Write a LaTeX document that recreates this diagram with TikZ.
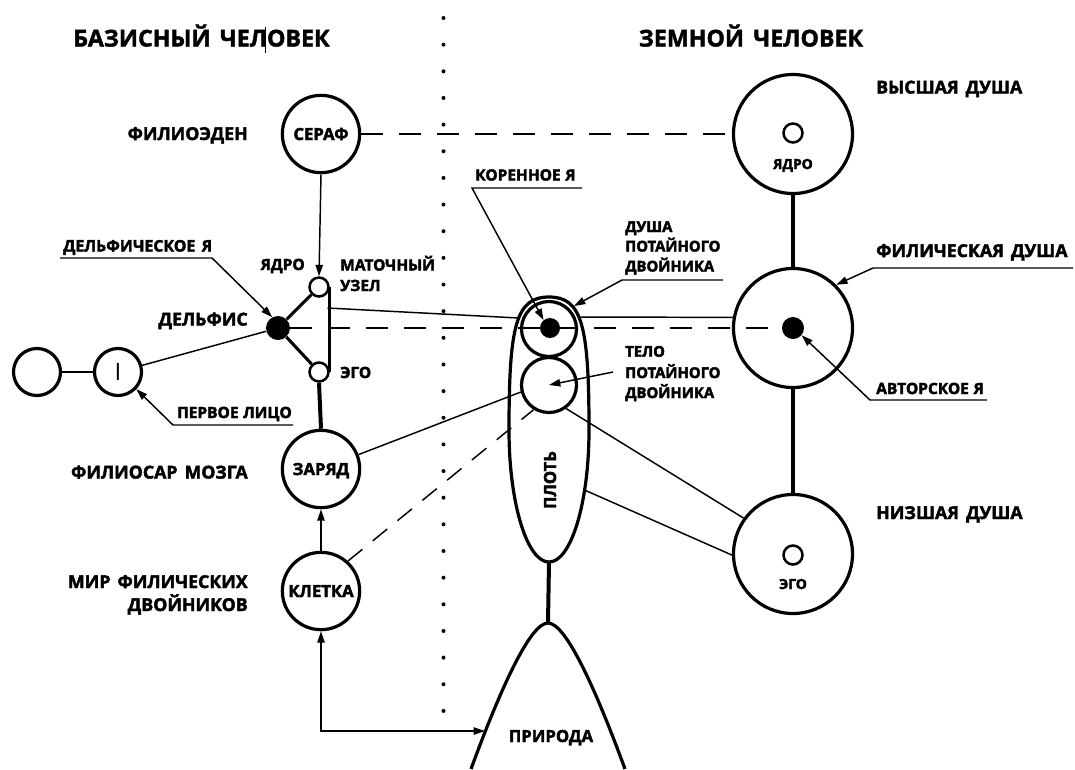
\documentclass[tikz,border=0pt]{standalone}
\usepackage{fontspec}
\setmainfont{Open Sans}
\usetikzlibrary{arrows.meta}
\newcommand{\gp}{\hskip0.4em\relax}
\newcommand{\sgp}{\hskip0.3em\relax}
\newcommand{\heavyon}{\special{pdf:literal direct 2 Tr 0.3 w}}
\newcommand{\heavyoff}{\special{pdf:literal direct 0 Tr}}
\begin{document}
\begin{tikzpicture}[x=0.75pt,y=-0.75pt,
  hv/.style={execute at begin node=\heavyon, execute at end node=\heavyoff},
  ttl/.style={hv, font=\fontsize{17.4}{21}\selectfont\bfseries, inner sep=0pt, anchor=base},
  side/.style={hv, font=\fontsize{13.3}{16}\selectfont\bfseries, inner sep=0pt},
  sml/.style={hv, font=\fontsize{11.6}{14}\selectfont\bfseries, inner sep=0pt},
  smm/.style={hv, font=\fontsize{11.1}{14}\selectfont\bfseries, inner sep=0pt},
  tny/.style={hv, font=\fontsize{10.4}{12}\selectfont\bfseries, inner sep=0pt, anchor=base},
  incirc/.style={hv, font=\fontsize{12.5}{15}\selectfont\bfseries, text height=9pt, text depth=0pt},
  ring/.style={circle, draw, line width=2.4pt, inner sep=0pt},
  colc/.style={ring, incirc, minimum size=58pt},
  bigring/.style={ring, minimum size=89.25pt},
  midring/.style={ring, minimum size=41.25pt},
  smallring/.style={ring, minimum size=35.25pt},
  tinyring/.style={circle, draw, line width=1.9pt, minimum size=14.25pt, inner sep=0pt},
  dotn/.style={circle, fill, draw=none, inner sep=0pt},
  heavy/.style={line width=3pt},
  thinl/.style={line width=1.1pt},
  dashA/.style={line width=1.6pt, dash pattern=on 16.5pt off 12pt},
  dashB/.style={line width=1.1pt, dash pattern=on 14pt off 10pt},
  arr/.style={line width=1.1pt, -{Triangle[length=8.5pt,width=5.5pt]}},
  dblarr/.style={line width=1.1pt, {Triangle[length=8.5pt,width=5.5pt]}-{Triangle[length=8.5pt,width=5.5pt]}}
]
\useasboundingbox (0,0) rectangle (1075,769);

% dotted divider
\foreach \k in {0,...,26} \fill (443.5,{18+\k*26.65}) circle (1.5pt);

% titles
\node[ttl] (t1) at (201.5,46.5) {БАЗИСНЫЙ\gp ЧЕЛОВЕК};
\node[ttl] (t2) at (751,46.5) {ЗЕМНОЙ\gp ЧЕЛОВЕК};
\draw[line width=0.6pt] (265.5,27) -- (265.5,53);

% left column
\node[colc] (seraph) at (321,134) {СЕРАФ};
\node[tinyring] (yadro1) at (319,287) {};
\node[tinyring] (ego1) at (319,372) {};
\node[dotn, minimum size=18pt] (delf) at (278,328) {};
\node[colc] (zar) at (321,469) {ЗАРЯД};
\node[colc] (klet) at (321,591) {КЛЕТКА};
\node[smallring] (empt) at (37,372) {};
\node[smallring, font=\fontsize{18}{20}\selectfont] (Icirc) at (118,372) {I};

% right column
\node[bigring] (vysh) at (793,134) {};
\node[tinyring] (yadro2) at (793,133) {};
\node[bigring] (fil) at (793,328) {};
\node[dotn, minimum size=16.5pt] (avtor) at (793,328) {};
\node[bigring] (nizh) at (793,554) {};
\node[tinyring] (ego2) at (793,555) {};

% middle body
\draw[line width=2.4pt] (549,297) .. controls (582,297) and (589,325) .. (589,430)
  .. controls (589,503) and (571,562) .. (549,562)
  .. controls (527,562) and (509,503) .. (509,430)
  .. controls (509,325) and (516,297) .. (549,297) -- cycle;
\node[midring] (dusha) at (549,329) {};
\node[midring] (telo) at (549,385) {};
\node[dotn, minimum size=15pt] (koren) at (550,328) {};
\coordinate (plotbot) at (549,562);
\coordinate (prirtop) at (548,623);
\draw[line width=2.4pt] (471,769) .. controls (500,690) and (530,623) .. (prirtop)
  .. controls (566,623) and (596,690) .. (625,769);
\coordinate (prirleft) at (485,731);
\coordinate (ellL) at (518.5,318);
\coordinate (ellR) at (579,317);
\coordinate (ellR2) at (584.5,490);
\coordinate (dushatip) at (574,306);
\coordinate (trip) at (327.5,308);

% thick connectors
\draw[heavy] (vysh.south) -- (fil.north);
\draw[heavy] (fil.south) -- (nizh.north);
\draw[heavy] (plotbot) -- (prirtop);
\draw[heavy] (ego1.south) -- (zar.north);

% triangle
\draw[line width=2.3pt] (delf) -- (yadro1);
\draw[line width=2.3pt] (delf) -- (ego1);
\draw[line width=2.3pt] (yadro1.east) -- (ego1.east);

% arrows
\draw[arr] (seraph.south) -- (yadro1.north);
\draw[arr] (klet.north) -- (zar.south);
\draw[dblarr] (klet.south) |- (prirleft);

% dashed lines
\draw[dashA] (seraph.east) -- (vysh.west);
\draw[dashA] (delf) -- (avtor);
\draw[dashB] (klet.48) -- (telo.238);

% thin connectors
\draw[thinl] (empt) -- (Icirc);
\draw[thinl] (Icirc) -- (delf);
\draw[thinl] (trip) -- (ellL);
\draw[thinl] (ellR) -- (fil.170);
\draw[thinl] (zar.21) -- (telo.194);
\draw[thinl] (telo.-54) -- (nizh.144);
\draw[thinl] (ellR2) -- (nizh.181);

% side labels left
\node[side, anchor=base east] (lfe) at (248,140) {ФИЛИОЭДЕН};
\node[side, anchor=base east] (ldel) at (248,325.5) {ДЕЛЬФИС};
\node[side, anchor=base east] (lfm) at (248,478.5) {ФИЛИОСАР\gp МОЗГА};
\node[side, anchor=base east] (lmir1) at (248,588) {МИР\gp ФИЛИЧЕСКИХ};
\node[side, anchor=base east] (lmir2) at (248,611) {ДВОЙНИКОВ};

% small labels left
\node[sml, font=\fontsize{11.9}{15}\selectfont\bfseries, anchor=base west] (ldi) at (63,251.5) {ДЕЛЬФИЧЕСКОЕ\gp Я};
\node[sml, anchor=base east] (lya) at (305,270) {ЯДРО};
\node[sml, anchor=base west] (lmu1) at (340,270.5) {МАТОЧНЫЙ};
\node[sml, anchor=base west] (lmu2) at (340,291) {УЗЕЛ};
\node[sml, anchor=base west] (leg) at (340,378) {ЭГО};
\node[sml, anchor=base west] (lpl) at (177,418) {ПЕРВОЕ\sgp ЛИЦО};

% middle labels
\node[sml, anchor=base west] (lkor) at (475,180.5) {КОРЕННОЕ\sgp Я};
\node[smm, anchor=base west] (ld1) at (625,232) {ДУША};
\node[smm, anchor=base west] (ld2) at (625,251.5) {ПОТАЙНОГО};
\node[smm, anchor=base west] (ld3) at (625,271.5) {ДВОЙНИКА};
\node[smm, anchor=base west] (lt1) at (625,356.7) {ТЕЛО};
\node[smm, anchor=base west] (lt2) at (625,378) {ПОТАЙНОГО};
\node[smm, anchor=base west] (lt3) at (625,398) {ДВОЙНИКА};
\node[incirc, rotate=90] (lplot) at (550,480) {ПЛОТЬ};
\node[incirc] (lpr) at (551,736) {ПРИРОДА};

% right labels
\node[side, anchor=base west] (lvd) at (876,93.5) {ВЫСШАЯ\gp ДУША};
\node[side, anchor=base west] (lfd) at (876,257) {ФИЛИЧЕСКАЯ\gp ДУША};
\node[side, anchor=base west] (lnd) at (876,519) {НИЗШАЯ\gp ДУША};
\node[sml, anchor=base west] (lav) at (876,394) {АВТОРСКОЕ\sgp Я};
\node[tny] (lya2) at (793,169) {ЯДРО};
\node[tny] (leg2) at (793,589) {ЭГО};

% leaders
\coordinate (u1a) at (60,258); \coordinate (u1b) at (212,258);
\draw[arr] (u1a) -- (u1b) -- (delf.118);
\coordinate (u2a) at (293,425); \coordinate (u2b) at (173,425);
\draw[arr] (u2a) -- (u2b) -- (Icirc.-43);
\coordinate (u3a) at (582,188); \coordinate (u3b) at (472,188);
\draw[arr] (u3a) -- (u3b) -- (koren.129);
\coordinate (u4a) at (723,280); \coordinate (u4b) at (622,280);
\draw[arr] (u4a) -- (u4b) -- (dushatip);
\coordinate (u5) at (613,372);
\draw[arr] (u5) -- (telo.center);
\coordinate (u6a) at (1073,268); \coordinate (u6b) at (873,268);
\draw[arr] (u6a) -- (u6b) -- (fil.45);
\coordinate (u7a) at (987,400); \coordinate (u7b) at (870,400);
\draw[arr] (u7a) -- (u7b) -- (avtor.-40);
\end{tikzpicture}
\end{document}
